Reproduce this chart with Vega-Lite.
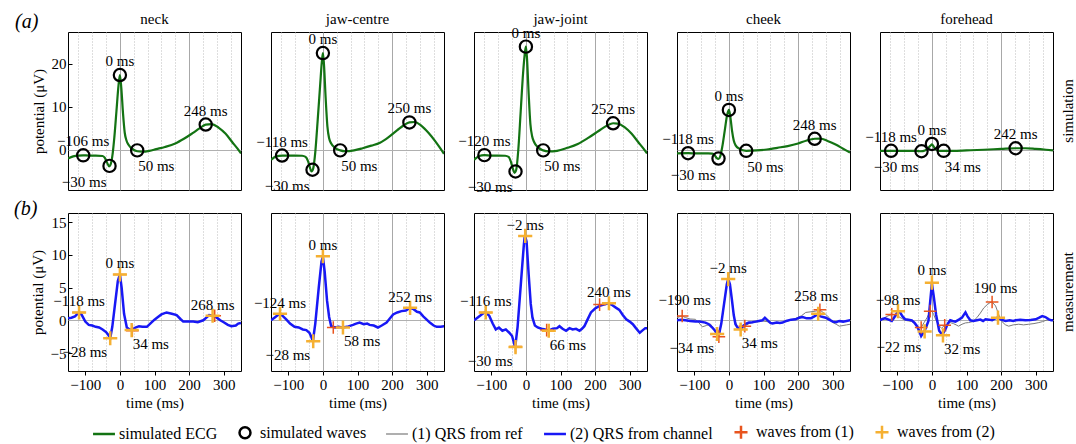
{
"$schema":"https://vega.github.io/schema/vega-lite/v6.json",
"padding":{"left":14,"right":2,"top":12,"bottom":2},
"config":{
 "font":"Liberation Serif",
 "view":{"stroke":"#000000","strokeWidth":1},
 "axis":{"labelFont":"Liberation Serif","titleFont":"Liberation Serif","labelFontSize":15,"titleFontSize":15,"titleFontWeight":"normal","labelColor":"#000","titleColor":"#000","domain":false,"tickColor":"#000"},
 "header":{"labelFont":"Liberation Serif","labelFontSize":15,"labelColor":"#000","titleFont":"Liberation Serif"},
 "legend":{"labelFont":"Liberation Serif","labelFontSize":16,"labelColor":"#000","layout":{"bottom":{"anchor":"middle"}}},
 "title":{"font":"Liberation Serif","fontSize":20,"fontStyle":"italic","fontWeight":"normal","color":"#000"},
 "text":{"font":"Liberation Serif","fontSize":15,"color":"#000"}
},
"datasets":{
"sim":[
{"src":"simulation","loc":"neck","series":"simulated ECG","t":-150,"v":-2.0},
{"src":"simulation","loc":"neck","series":"simulated ECG","t":-135,"v":-1.5},
{"src":"simulation","loc":"neck","series":"simulated ECG","t":-120,"v":-1.3},
{"src":"simulation","loc":"neck","series":"simulated ECG","t":-106,"v":-1.25},
{"src":"simulation","loc":"neck","series":"simulated ECG","t":-90,"v":-1.3},
{"src":"simulation","loc":"neck","series":"simulated ECG","t":-70,"v":-1.3},
{"src":"simulation","loc":"neck","series":"simulated ECG","t":-50,"v":-1.4},
{"src":"simulation","loc":"neck","series":"simulated ECG","t":-44,"v":-1.8},
{"src":"simulation","loc":"neck","series":"simulated ECG","t":-38,"v":-2.8},
{"src":"simulation","loc":"neck","series":"simulated ECG","t":-31,"v":-3.8},
{"src":"simulation","loc":"neck","series":"simulated ECG","t":-27,"v":-3.4},
{"src":"simulation","loc":"neck","series":"simulated ECG","t":-22,"v":-1.5},
{"src":"simulation","loc":"neck","series":"simulated ECG","t":-16,"v":3},
{"src":"simulation","loc":"neck","series":"simulated ECG","t":-10,"v":9},
{"src":"simulation","loc":"neck","series":"simulated ECG","t":-4,"v":15},
{"src":"simulation","loc":"neck","series":"simulated ECG","t":0,"v":17.4},
{"src":"simulation","loc":"neck","series":"simulated ECG","t":4,"v":14.5},
{"src":"simulation","loc":"neck","series":"simulated ECG","t":9,"v":8.5},
{"src":"simulation","loc":"neck","series":"simulated ECG","t":14,"v":4},
{"src":"simulation","loc":"neck","series":"simulated ECG","t":19,"v":2.2},
{"src":"simulation","loc":"neck","series":"simulated ECG","t":25,"v":1.2},
{"src":"simulation","loc":"neck","series":"simulated ECG","t":35,"v":0.3},
{"src":"simulation","loc":"neck","series":"simulated ECG","t":50,"v":-0.3},
{"src":"simulation","loc":"neck","series":"simulated ECG","t":65,"v":-0.4},
{"src":"simulation","loc":"neck","series":"simulated ECG","t":85,"v":-0.2},
{"src":"simulation","loc":"neck","series":"simulated ECG","t":105,"v":0.2},
{"src":"simulation","loc":"neck","series":"simulated ECG","t":130,"v":0.7},
{"src":"simulation","loc":"neck","series":"simulated ECG","t":160,"v":1.5},
{"src":"simulation","loc":"neck","series":"simulated ECG","t":185,"v":2.6},
{"src":"simulation","loc":"neck","series":"simulated ECG","t":210,"v":3.9},
{"src":"simulation","loc":"neck","series":"simulated ECG","t":230,"v":5.0},
{"src":"simulation","loc":"neck","series":"simulated ECG","t":248,"v":5.9},
{"src":"simulation","loc":"neck","series":"simulated ECG","t":265,"v":6.0},
{"src":"simulation","loc":"neck","series":"simulated ECG","t":285,"v":5.2},
{"src":"simulation","loc":"neck","series":"simulated ECG","t":305,"v":3.8},
{"src":"simulation","loc":"neck","series":"simulated ECG","t":325,"v":1.8},
{"src":"simulation","loc":"neck","series":"simulated ECG","t":340,"v":0.3},
{"src":"simulation","loc":"neck","series":"simulated ECG","t":350,"v":-0.8},
{"src":"simulation","loc":"jaw-centre","series":"simulated ECG","t":-150,"v":-2.3},
{"src":"simulation","loc":"jaw-centre","series":"simulated ECG","t":-135,"v":-1.5},
{"src":"simulation","loc":"jaw-centre","series":"simulated ECG","t":-118,"v":-1.3},
{"src":"simulation","loc":"jaw-centre","series":"simulated ECG","t":-100,"v":-1.3},
{"src":"simulation","loc":"jaw-centre","series":"simulated ECG","t":-80,"v":-1.3},
{"src":"simulation","loc":"jaw-centre","series":"simulated ECG","t":-60,"v":-1.35},
{"src":"simulation","loc":"jaw-centre","series":"simulated ECG","t":-50,"v":-1.6},
{"src":"simulation","loc":"jaw-centre","series":"simulated ECG","t":-43,"v":-2.6},
{"src":"simulation","loc":"jaw-centre","series":"simulated ECG","t":-37,"v":-4.2},
{"src":"simulation","loc":"jaw-centre","series":"simulated ECG","t":-33,"v":-5.0},
{"src":"simulation","loc":"jaw-centre","series":"simulated ECG","t":-28,"v":-4.3},
{"src":"simulation","loc":"jaw-centre","series":"simulated ECG","t":-22,"v":-0.5},
{"src":"simulation","loc":"jaw-centre","series":"simulated ECG","t":-15,"v":7},
{"src":"simulation","loc":"jaw-centre","series":"simulated ECG","t":-8,"v":15},
{"src":"simulation","loc":"jaw-centre","series":"simulated ECG","t":-3,"v":20.5},
{"src":"simulation","loc":"jaw-centre","series":"simulated ECG","t":0,"v":22.5},
{"src":"simulation","loc":"jaw-centre","series":"simulated ECG","t":3,"v":20},
{"src":"simulation","loc":"jaw-centre","series":"simulated ECG","t":8,"v":12},
{"src":"simulation","loc":"jaw-centre","series":"simulated ECG","t":13,"v":5.5},
{"src":"simulation","loc":"jaw-centre","series":"simulated ECG","t":18,"v":2.7},
{"src":"simulation","loc":"jaw-centre","series":"simulated ECG","t":24,"v":1.5},
{"src":"simulation","loc":"jaw-centre","series":"simulated ECG","t":35,"v":0.5},
{"src":"simulation","loc":"jaw-centre","series":"simulated ECG","t":50,"v":-0.1},
{"src":"simulation","loc":"jaw-centre","series":"simulated ECG","t":65,"v":-0.3},
{"src":"simulation","loc":"jaw-centre","series":"simulated ECG","t":90,"v":-0.1},
{"src":"simulation","loc":"jaw-centre","series":"simulated ECG","t":115,"v":0.4},
{"src":"simulation","loc":"jaw-centre","series":"simulated ECG","t":140,"v":1.0},
{"src":"simulation","loc":"jaw-centre","series":"simulated ECG","t":165,"v":1.7},
{"src":"simulation","loc":"jaw-centre","series":"simulated ECG","t":190,"v":3.0},
{"src":"simulation","loc":"jaw-centre","series":"simulated ECG","t":215,"v":4.6},
{"src":"simulation","loc":"jaw-centre","series":"simulated ECG","t":235,"v":5.8},
{"src":"simulation","loc":"jaw-centre","series":"simulated ECG","t":250,"v":6.4},
{"src":"simulation","loc":"jaw-centre","series":"simulated ECG","t":265,"v":6.5},
{"src":"simulation","loc":"jaw-centre","series":"simulated ECG","t":285,"v":5.6},
{"src":"simulation","loc":"jaw-centre","series":"simulated ECG","t":305,"v":4.0},
{"src":"simulation","loc":"jaw-centre","series":"simulated ECG","t":325,"v":2.0},
{"src":"simulation","loc":"jaw-centre","series":"simulated ECG","t":340,"v":0.3},
{"src":"simulation","loc":"jaw-centre","series":"simulated ECG","t":350,"v":-0.9},
{"src":"simulation","loc":"jaw-joint","series":"simulated ECG","t":-150,"v":-2.3},
{"src":"simulation","loc":"jaw-joint","series":"simulated ECG","t":-135,"v":-1.4},
{"src":"simulation","loc":"jaw-joint","series":"simulated ECG","t":-120,"v":-1.2},
{"src":"simulation","loc":"jaw-joint","series":"simulated ECG","t":-100,"v":-1.3},
{"src":"simulation","loc":"jaw-joint","series":"simulated ECG","t":-80,"v":-1.3},
{"src":"simulation","loc":"jaw-joint","series":"simulated ECG","t":-60,"v":-1.35},
{"src":"simulation","loc":"jaw-joint","series":"simulated ECG","t":-50,"v":-1.6},
{"src":"simulation","loc":"jaw-joint","series":"simulated ECG","t":-43,"v":-2.8},
{"src":"simulation","loc":"jaw-joint","series":"simulated ECG","t":-37,"v":-4.5},
{"src":"simulation","loc":"jaw-joint","series":"simulated ECG","t":-33,"v":-5.3},
{"src":"simulation","loc":"jaw-joint","series":"simulated ECG","t":-28,"v":-4.6},
{"src":"simulation","loc":"jaw-joint","series":"simulated ECG","t":-22,"v":0},
{"src":"simulation","loc":"jaw-joint","series":"simulated ECG","t":-15,"v":9},
{"src":"simulation","loc":"jaw-joint","series":"simulated ECG","t":-8,"v":18},
{"src":"simulation","loc":"jaw-joint","series":"simulated ECG","t":-3,"v":22.5},
{"src":"simulation","loc":"jaw-joint","series":"simulated ECG","t":0,"v":24.0},
{"src":"simulation","loc":"jaw-joint","series":"simulated ECG","t":3,"v":21.5},
{"src":"simulation","loc":"jaw-joint","series":"simulated ECG","t":8,"v":13},
{"src":"simulation","loc":"jaw-joint","series":"simulated ECG","t":13,"v":6},
{"src":"simulation","loc":"jaw-joint","series":"simulated ECG","t":18,"v":3.2},
{"src":"simulation","loc":"jaw-joint","series":"simulated ECG","t":24,"v":1.8},
{"src":"simulation","loc":"jaw-joint","series":"simulated ECG","t":35,"v":0.6},
{"src":"simulation","loc":"jaw-joint","series":"simulated ECG","t":50,"v":-0.1},
{"src":"simulation","loc":"jaw-joint","series":"simulated ECG","t":65,"v":-0.35},
{"src":"simulation","loc":"jaw-joint","series":"simulated ECG","t":90,"v":-0.2},
{"src":"simulation","loc":"jaw-joint","series":"simulated ECG","t":120,"v":0.5},
{"src":"simulation","loc":"jaw-joint","series":"simulated ECG","t":150,"v":1.4},
{"src":"simulation","loc":"jaw-joint","series":"simulated ECG","t":180,"v":2.8},
{"src":"simulation","loc":"jaw-joint","series":"simulated ECG","t":210,"v":4.4},
{"src":"simulation","loc":"jaw-joint","series":"simulated ECG","t":235,"v":5.7},
{"src":"simulation","loc":"jaw-joint","series":"simulated ECG","t":252,"v":6.2},
{"src":"simulation","loc":"jaw-joint","series":"simulated ECG","t":265,"v":6.1},
{"src":"simulation","loc":"jaw-joint","series":"simulated ECG","t":285,"v":5.3},
{"src":"simulation","loc":"jaw-joint","series":"simulated ECG","t":305,"v":3.8},
{"src":"simulation","loc":"jaw-joint","series":"simulated ECG","t":325,"v":1.8},
{"src":"simulation","loc":"jaw-joint","series":"simulated ECG","t":340,"v":0.3},
{"src":"simulation","loc":"jaw-joint","series":"simulated ECG","t":350,"v":-0.8},
{"src":"simulation","loc":"cheek","series":"simulated ECG","t":-150,"v":-0.8},
{"src":"simulation","loc":"cheek","series":"simulated ECG","t":-118,"v":-0.75},
{"src":"simulation","loc":"cheek","series":"simulated ECG","t":-90,"v":-0.8},
{"src":"simulation","loc":"cheek","series":"simulated ECG","t":-60,"v":-0.8},
{"src":"simulation","loc":"cheek","series":"simulated ECG","t":-48,"v":-0.85},
{"src":"simulation","loc":"cheek","series":"simulated ECG","t":-41,"v":-1.2},
{"src":"simulation","loc":"cheek","series":"simulated ECG","t":-35,"v":-1.9},
{"src":"simulation","loc":"cheek","series":"simulated ECG","t":-30,"v":-2.1},
{"src":"simulation","loc":"cheek","series":"simulated ECG","t":-25,"v":-1.5},
{"src":"simulation","loc":"cheek","series":"simulated ECG","t":-19,"v":0.8},
{"src":"simulation","loc":"cheek","series":"simulated ECG","t":-12,"v":4.5},
{"src":"simulation","loc":"cheek","series":"simulated ECG","t":-5,"v":8.2},
{"src":"simulation","loc":"cheek","series":"simulated ECG","t":0,"v":9.3},
{"src":"simulation","loc":"cheek","series":"simulated ECG","t":4,"v":7.8},
{"src":"simulation","loc":"cheek","series":"simulated ECG","t":9,"v":4.5},
{"src":"simulation","loc":"cheek","series":"simulated ECG","t":14,"v":2.2},
{"src":"simulation","loc":"cheek","series":"simulated ECG","t":20,"v":1.0},
{"src":"simulation","loc":"cheek","series":"simulated ECG","t":30,"v":0.3},
{"src":"simulation","loc":"cheek","series":"simulated ECG","t":50,"v":-0.2},
{"src":"simulation","loc":"cheek","series":"simulated ECG","t":80,"v":-0.1},
{"src":"simulation","loc":"cheek","series":"simulated ECG","t":110,"v":0.1},
{"src":"simulation","loc":"cheek","series":"simulated ECG","t":140,"v":0.5},
{"src":"simulation","loc":"cheek","series":"simulated ECG","t":170,"v":0.9},
{"src":"simulation","loc":"cheek","series":"simulated ECG","t":200,"v":1.5},
{"src":"simulation","loc":"cheek","series":"simulated ECG","t":225,"v":2.2},
{"src":"simulation","loc":"cheek","series":"simulated ECG","t":248,"v":2.6},
{"src":"simulation","loc":"cheek","series":"simulated ECG","t":265,"v":2.65},
{"src":"simulation","loc":"cheek","series":"simulated ECG","t":285,"v":2.1},
{"src":"simulation","loc":"cheek","series":"simulated ECG","t":310,"v":1.2},
{"src":"simulation","loc":"cheek","series":"simulated ECG","t":330,"v":0.3},
{"src":"simulation","loc":"cheek","series":"simulated ECG","t":350,"v":-0.6},
{"src":"simulation","loc":"forehead","series":"simulated ECG","t":-150,"v":-0.2},
{"src":"simulation","loc":"forehead","series":"simulated ECG","t":-118,"v":-0.2},
{"src":"simulation","loc":"forehead","series":"simulated ECG","t":-80,"v":-0.2},
{"src":"simulation","loc":"forehead","series":"simulated ECG","t":-45,"v":-0.2},
{"src":"simulation","loc":"forehead","series":"simulated ECG","t":-32,"v":-0.3},
{"src":"simulation","loc":"forehead","series":"simulated ECG","t":-20,"v":-0.1},
{"src":"simulation","loc":"forehead","series":"simulated ECG","t":-10,"v":0.5},
{"src":"simulation","loc":"forehead","series":"simulated ECG","t":-3,"v":1.1},
{"src":"simulation","loc":"forehead","series":"simulated ECG","t":0,"v":1.3},
{"src":"simulation","loc":"forehead","series":"simulated ECG","t":5,"v":0.8},
{"src":"simulation","loc":"forehead","series":"simulated ECG","t":12,"v":0.1},
{"src":"simulation","loc":"forehead","series":"simulated ECG","t":22,"v":-0.2},
{"src":"simulation","loc":"forehead","series":"simulated ECG","t":34,"v":-0.2},
{"src":"simulation","loc":"forehead","series":"simulated ECG","t":60,"v":-0.2},
{"src":"simulation","loc":"forehead","series":"simulated ECG","t":100,"v":-0.1},
{"src":"simulation","loc":"forehead","series":"simulated ECG","t":150,"v":0.05},
{"src":"simulation","loc":"forehead","series":"simulated ECG","t":200,"v":0.25},
{"src":"simulation","loc":"forehead","series":"simulated ECG","t":242,"v":0.4},
{"src":"simulation","loc":"forehead","series":"simulated ECG","t":270,"v":0.4},
{"src":"simulation","loc":"forehead","series":"simulated ECG","t":300,"v":0.25},
{"src":"simulation","loc":"forehead","series":"simulated ECG","t":330,"v":0.05},
{"src":"simulation","loc":"forehead","series":"simulated ECG","t":350,"v":-0.1},
{"src":"simulation","loc":"neck","series":"simulated waves","wave":"P","t":-106,"v":-1.25,"label":"−106 ms"},
{"src":"simulation","loc":"neck","series":"simulated waves","wave":"Q","t":-30,"v":-3.7,"label":"−30 ms"},
{"src":"simulation","loc":"neck","series":"simulated waves","wave":"R","t":0,"v":17.4,"label":"0 ms"},
{"src":"simulation","loc":"neck","series":"simulated waves","wave":"S","t":50,"v":-0.1,"label":"50 ms"},
{"src":"simulation","loc":"neck","series":"simulated waves","wave":"T","t":248,"v":5.9,"label":"248 ms"},
{"src":"simulation","loc":"jaw-centre","series":"simulated waves","wave":"P","t":-118,"v":-1.3,"label":"−118 ms"},
{"src":"simulation","loc":"jaw-centre","series":"simulated waves","wave":"Q","t":-30,"v":-4.6,"label":"−30 ms"},
{"src":"simulation","loc":"jaw-centre","series":"simulated waves","wave":"R","t":0,"v":22.5,"label":"0 ms"},
{"src":"simulation","loc":"jaw-centre","series":"simulated waves","wave":"S","t":50,"v":-0.1,"label":"50 ms"},
{"src":"simulation","loc":"jaw-centre","series":"simulated waves","wave":"T","t":250,"v":6.4,"label":"250 ms"},
{"src":"simulation","loc":"jaw-joint","series":"simulated waves","wave":"P","t":-120,"v":-1.2,"label":"−120 ms"},
{"src":"simulation","loc":"jaw-joint","series":"simulated waves","wave":"Q","t":-30,"v":-5.0,"label":"−30 ms"},
{"src":"simulation","loc":"jaw-joint","series":"simulated waves","wave":"R","t":0,"v":24.0,"label":"0 ms"},
{"src":"simulation","loc":"jaw-joint","series":"simulated waves","wave":"S","t":50,"v":-0.1,"label":"50 ms"},
{"src":"simulation","loc":"jaw-joint","series":"simulated waves","wave":"T","t":252,"v":6.2,"label":"252 ms"},
{"src":"simulation","loc":"cheek","series":"simulated waves","wave":"P","t":-118,"v":-0.75,"label":"−118 ms"},
{"src":"simulation","loc":"cheek","series":"simulated waves","wave":"Q","t":-30,"v":-2.0,"label":"−30 ms"},
{"src":"simulation","loc":"cheek","series":"simulated waves","wave":"R","t":0,"v":9.3,"label":"0 ms"},
{"src":"simulation","loc":"cheek","series":"simulated waves","wave":"S","t":50,"v":-0.2,"label":"50 ms"},
{"src":"simulation","loc":"cheek","series":"simulated waves","wave":"T","t":248,"v":2.6,"label":"248 ms"},
{"src":"simulation","loc":"forehead","series":"simulated waves","wave":"P","t":-118,"v":-0.2,"label":"−118 ms"},
{"src":"simulation","loc":"forehead","series":"simulated waves","wave":"Q","t":-30,"v":-0.3,"label":"−30 ms"},
{"src":"simulation","loc":"forehead","series":"simulated waves","wave":"R","t":0,"v":1.4,"label":"0 ms"},
{"src":"simulation","loc":"forehead","series":"simulated waves","wave":"S","t":34,"v":-0.2,"label":"34 ms"},
{"src":"simulation","loc":"forehead","series":"simulated waves","wave":"T","t":242,"v":0.4,"label":"242 ms"}
],
"meas":[
{"src":"measurement","loc":"neck","series":"(2) QRS from channel","t":-150,"v":0.3},
{"src":"measurement","loc":"neck","series":"(2) QRS from channel","t":-140,"v":0.4},
{"src":"measurement","loc":"neck","series":"(2) QRS from channel","t":-130,"v":0.6},
{"src":"measurement","loc":"neck","series":"(2) QRS from channel","t":-118,"v":1.2},
{"src":"measurement","loc":"neck","series":"(2) QRS from channel","t":-110,"v":0.8},
{"src":"measurement","loc":"neck","series":"(2) QRS from channel","t":-100,"v":-0.2},
{"src":"measurement","loc":"neck","series":"(2) QRS from channel","t":-90,"v":-0.7},
{"src":"measurement","loc":"neck","series":"(2) QRS from channel","t":-80,"v":-0.8},
{"src":"measurement","loc":"neck","series":"(2) QRS from channel","t":-70,"v":-1.0},
{"src":"measurement","loc":"neck","series":"(2) QRS from channel","t":-60,"v":-1.1},
{"src":"measurement","loc":"neck","series":"(2) QRS from channel","t":-50,"v":-1.4},
{"src":"measurement","loc":"neck","series":"(2) QRS from channel","t":-40,"v":-1.8},
{"src":"measurement","loc":"neck","series":"(2) QRS from channel","t":-34,"v":-2.2},
{"src":"measurement","loc":"neck","series":"(2) QRS from channel","t":-28,"v":-2.75},
{"src":"measurement","loc":"neck","series":"(2) QRS from channel","t":-22,"v":-1.0},
{"src":"measurement","loc":"neck","series":"(2) QRS from channel","t":-14,"v":2.5},
{"src":"measurement","loc":"neck","series":"(2) QRS from channel","t":-6,"v":6.0},
{"src":"measurement","loc":"neck","series":"(2) QRS from channel","t":0,"v":7.0},
{"src":"measurement","loc":"neck","series":"(2) QRS from channel","t":5,"v":5.0},
{"src":"measurement","loc":"neck","series":"(2) QRS from channel","t":12,"v":1.0},
{"src":"measurement","loc":"neck","series":"(2) QRS from channel","t":20,"v":-1.1},
{"src":"measurement","loc":"neck","series":"(2) QRS from channel","t":28,"v":-1.4},
{"src":"measurement","loc":"neck","series":"(2) QRS from channel","t":34,"v":-1.5},
{"src":"measurement","loc":"neck","series":"(2) QRS from channel","t":45,"v":-1.1},
{"src":"measurement","loc":"neck","series":"(2) QRS from channel","t":55,"v":-0.9},
{"src":"measurement","loc":"neck","series":"(2) QRS from channel","t":65,"v":-1.0},
{"src":"measurement","loc":"neck","series":"(2) QRS from channel","t":78,"v":-1.0},
{"src":"measurement","loc":"neck","series":"(2) QRS from channel","t":90,"v":-0.4},
{"src":"measurement","loc":"neck","series":"(2) QRS from channel","t":100,"v":0.1},
{"src":"measurement","loc":"neck","series":"(2) QRS from channel","t":110,"v":0.5},
{"src":"measurement","loc":"neck","series":"(2) QRS from channel","t":120,"v":0.9},
{"src":"measurement","loc":"neck","series":"(2) QRS from channel","t":135,"v":1.2},
{"src":"measurement","loc":"neck","series":"(2) QRS from channel","t":150,"v":1.0},
{"src":"measurement","loc":"neck","series":"(2) QRS from channel","t":164,"v":0.8},
{"src":"measurement","loc":"neck","series":"(2) QRS from channel","t":175,"v":0.2},
{"src":"measurement","loc":"neck","series":"(2) QRS from channel","t":183,"v":-0.2},
{"src":"measurement","loc":"neck","series":"(2) QRS from channel","t":195,"v":-0.2},
{"src":"measurement","loc":"neck","series":"(2) QRS from channel","t":212,"v":-0.2},
{"src":"measurement","loc":"neck","series":"(2) QRS from channel","t":225,"v":-0.3},
{"src":"measurement","loc":"neck","series":"(2) QRS from channel","t":241,"v":0.0},
{"src":"measurement","loc":"neck","series":"(2) QRS from channel","t":250,"v":0.4},
{"src":"measurement","loc":"neck","series":"(2) QRS from channel","t":258,"v":0.8},
{"src":"measurement","loc":"neck","series":"(2) QRS from channel","t":268,"v":0.7},
{"src":"measurement","loc":"neck","series":"(2) QRS from channel","t":280,"v":0.4},
{"src":"measurement","loc":"neck","series":"(2) QRS from channel","t":290,"v":0.0},
{"src":"measurement","loc":"neck","series":"(2) QRS from channel","t":300,"v":-0.3},
{"src":"measurement","loc":"neck","series":"(2) QRS from channel","t":312,"v":-0.7},
{"src":"measurement","loc":"neck","series":"(2) QRS from channel","t":322,"v":-0.9},
{"src":"measurement","loc":"neck","series":"(2) QRS from channel","t":335,"v":-0.8},
{"src":"measurement","loc":"neck","series":"(2) QRS from channel","t":342,"v":-0.5},
{"src":"measurement","loc":"neck","series":"(2) QRS from channel","t":350,"v":-0.4},
{"src":"measurement","loc":"jaw-centre","series":"(2) QRS from channel","t":-150,"v":0.0},
{"src":"measurement","loc":"jaw-centre","series":"(2) QRS from channel","t":-140,"v":0.4},
{"src":"measurement","loc":"jaw-centre","series":"(2) QRS from channel","t":-130,"v":0.8},
{"src":"measurement","loc":"jaw-centre","series":"(2) QRS from channel","t":-123,"v":1.0},
{"src":"measurement","loc":"jaw-centre","series":"(2) QRS from channel","t":-115,"v":0.6},
{"src":"measurement","loc":"jaw-centre","series":"(2) QRS from channel","t":-106,"v":0.15},
{"src":"measurement","loc":"jaw-centre","series":"(2) QRS from channel","t":-95,"v":-0.5},
{"src":"measurement","loc":"jaw-centre","series":"(2) QRS from channel","t":-82,"v":-1.0},
{"src":"measurement","loc":"jaw-centre","series":"(2) QRS from channel","t":-70,"v":-1.1},
{"src":"measurement","loc":"jaw-centre","series":"(2) QRS from channel","t":-58,"v":-1.4},
{"src":"measurement","loc":"jaw-centre","series":"(2) QRS from channel","t":-48,"v":-1.5},
{"src":"measurement","loc":"jaw-centre","series":"(2) QRS from channel","t":-39,"v":-1.9},
{"src":"measurement","loc":"jaw-centre","series":"(2) QRS from channel","t":-33,"v":-2.6},
{"src":"measurement","loc":"jaw-centre","series":"(2) QRS from channel","t":-29,"v":-3.2},
{"src":"measurement","loc":"jaw-centre","series":"(2) QRS from channel","t":-22,"v":-0.5},
{"src":"measurement","loc":"jaw-centre","series":"(2) QRS from channel","t":-12,"v":5.0},
{"src":"measurement","loc":"jaw-centre","series":"(2) QRS from channel","t":-4,"v":9.0},
{"src":"measurement","loc":"jaw-centre","series":"(2) QRS from channel","t":0,"v":9.7},
{"src":"measurement","loc":"jaw-centre","series":"(2) QRS from channel","t":5,"v":7.5},
{"src":"measurement","loc":"jaw-centre","series":"(2) QRS from channel","t":12,"v":3.0},
{"src":"measurement","loc":"jaw-centre","series":"(2) QRS from channel","t":18,"v":0.5},
{"src":"measurement","loc":"jaw-centre","series":"(2) QRS from channel","t":24,"v":-0.9},
{"src":"measurement","loc":"jaw-centre","series":"(2) QRS from channel","t":35,"v":-1.1},
{"src":"measurement","loc":"jaw-centre","series":"(2) QRS from channel","t":45,"v":-1.0},
{"src":"measurement","loc":"jaw-centre","series":"(2) QRS from channel","t":56,"v":-1.1},
{"src":"measurement","loc":"jaw-centre","series":"(2) QRS from channel","t":70,"v":-1.0},
{"src":"measurement","loc":"jaw-centre","series":"(2) QRS from channel","t":87,"v":-0.7},
{"src":"measurement","loc":"jaw-centre","series":"(2) QRS from channel","t":96,"v":-0.5},
{"src":"measurement","loc":"jaw-centre","series":"(2) QRS from channel","t":106,"v":-0.35},
{"src":"measurement","loc":"jaw-centre","series":"(2) QRS from channel","t":118,"v":-0.6},
{"src":"measurement","loc":"jaw-centre","series":"(2) QRS from channel","t":128,"v":-0.5},
{"src":"measurement","loc":"jaw-centre","series":"(2) QRS from channel","t":135,"v":-0.7},
{"src":"measurement","loc":"jaw-centre","series":"(2) QRS from channel","t":147,"v":-0.8},
{"src":"measurement","loc":"jaw-centre","series":"(2) QRS from channel","t":159,"v":-1.1},
{"src":"measurement","loc":"jaw-centre","series":"(2) QRS from channel","t":170,"v":-0.8},
{"src":"measurement","loc":"jaw-centre","series":"(2) QRS from channel","t":184,"v":-0.35},
{"src":"measurement","loc":"jaw-centre","series":"(2) QRS from channel","t":194,"v":0.3},
{"src":"measurement","loc":"jaw-centre","series":"(2) QRS from channel","t":203,"v":0.9},
{"src":"measurement","loc":"jaw-centre","series":"(2) QRS from channel","t":215,"v":1.2},
{"src":"measurement","loc":"jaw-centre","series":"(2) QRS from channel","t":227,"v":1.4},
{"src":"measurement","loc":"jaw-centre","series":"(2) QRS from channel","t":240,"v":1.5},
{"src":"measurement","loc":"jaw-centre","series":"(2) QRS from channel","t":251,"v":1.9},
{"src":"measurement","loc":"jaw-centre","series":"(2) QRS from channel","t":262,"v":1.7},
{"src":"measurement","loc":"jaw-centre","series":"(2) QRS from channel","t":272,"v":1.3},
{"src":"measurement","loc":"jaw-centre","series":"(2) QRS from channel","t":280,"v":1.2},
{"src":"measurement","loc":"jaw-centre","series":"(2) QRS from channel","t":290,"v":0.6},
{"src":"measurement","loc":"jaw-centre","series":"(2) QRS from channel","t":300,"v":0.1},
{"src":"measurement","loc":"jaw-centre","series":"(2) QRS from channel","t":309,"v":-0.35},
{"src":"measurement","loc":"jaw-centre","series":"(2) QRS from channel","t":320,"v":-0.8},
{"src":"measurement","loc":"jaw-centre","series":"(2) QRS from channel","t":329,"v":-1.0},
{"src":"measurement","loc":"jaw-centre","series":"(2) QRS from channel","t":340,"v":-1.0},
{"src":"measurement","loc":"jaw-centre","series":"(2) QRS from channel","t":351,"v":-0.9},
{"src":"measurement","loc":"jaw-joint","series":"(2) QRS from channel","t":-150,"v":0.0},
{"src":"measurement","loc":"jaw-joint","series":"(2) QRS from channel","t":-140,"v":0.4},
{"src":"measurement","loc":"jaw-joint","series":"(2) QRS from channel","t":-128,"v":0.9},
{"src":"measurement","loc":"jaw-joint","series":"(2) QRS from channel","t":-119,"v":1.2},
{"src":"measurement","loc":"jaw-joint","series":"(2) QRS from channel","t":-112,"v":1.0},
{"src":"measurement","loc":"jaw-joint","series":"(2) QRS from channel","t":-106,"v":0.7},
{"src":"measurement","loc":"jaw-joint","series":"(2) QRS from channel","t":-96,"v":-0.5},
{"src":"measurement","loc":"jaw-joint","series":"(2) QRS from channel","t":-87,"v":-1.4},
{"src":"measurement","loc":"jaw-joint","series":"(2) QRS from channel","t":-78,"v":-1.1},
{"src":"measurement","loc":"jaw-joint","series":"(2) QRS from channel","t":-68,"v":-1.6},
{"src":"measurement","loc":"jaw-joint","series":"(2) QRS from channel","t":-58,"v":-1.4},
{"src":"measurement","loc":"jaw-joint","series":"(2) QRS from channel","t":-48,"v":-1.9},
{"src":"measurement","loc":"jaw-joint","series":"(2) QRS from channel","t":-40,"v":-2.4},
{"src":"measurement","loc":"jaw-joint","series":"(2) QRS from channel","t":-31,"v":-4.1},
{"src":"measurement","loc":"jaw-joint","series":"(2) QRS from channel","t":-24,"v":-1.0},
{"src":"measurement","loc":"jaw-joint","series":"(2) QRS from channel","t":-14,"v":6.0},
{"src":"measurement","loc":"jaw-joint","series":"(2) QRS from channel","t":-6,"v":11.5},
{"src":"measurement","loc":"jaw-joint","series":"(2) QRS from channel","t":-3,"v":13.0},
{"src":"measurement","loc":"jaw-joint","series":"(2) QRS from channel","t":2,"v":12.0},
{"src":"measurement","loc":"jaw-joint","series":"(2) QRS from channel","t":8,"v":7.0},
{"src":"measurement","loc":"jaw-joint","series":"(2) QRS from channel","t":14,"v":2.5},
{"src":"measurement","loc":"jaw-joint","series":"(2) QRS from channel","t":19,"v":0.4},
{"src":"measurement","loc":"jaw-joint","series":"(2) QRS from channel","t":26,"v":-0.8},
{"src":"measurement","loc":"jaw-joint","series":"(2) QRS from channel","t":34,"v":-1.1},
{"src":"measurement","loc":"jaw-joint","series":"(2) QRS from channel","t":45,"v":-1.3},
{"src":"measurement","loc":"jaw-joint","series":"(2) QRS from channel","t":55,"v":-1.4},
{"src":"measurement","loc":"jaw-joint","series":"(2) QRS from channel","t":65,"v":-1.6},
{"src":"measurement","loc":"jaw-joint","series":"(2) QRS from channel","t":78,"v":-1.3},
{"src":"measurement","loc":"jaw-joint","series":"(2) QRS from channel","t":90,"v":-1.2},
{"src":"measurement","loc":"jaw-joint","series":"(2) QRS from channel","t":97,"v":-0.9},
{"src":"measurement","loc":"jaw-joint","series":"(2) QRS from channel","t":106,"v":-1.3},
{"src":"measurement","loc":"jaw-joint","series":"(2) QRS from channel","t":116,"v":-1.6},
{"src":"measurement","loc":"jaw-joint","series":"(2) QRS from channel","t":126,"v":-1.2},
{"src":"measurement","loc":"jaw-joint","series":"(2) QRS from channel","t":135,"v":-1.4},
{"src":"measurement","loc":"jaw-joint","series":"(2) QRS from channel","t":145,"v":-1.3},
{"src":"measurement","loc":"jaw-joint","series":"(2) QRS from channel","t":155,"v":-1.6},
{"src":"measurement","loc":"jaw-joint","series":"(2) QRS from channel","t":162,"v":-1.3},
{"src":"measurement","loc":"jaw-joint","series":"(2) QRS from channel","t":169,"v":-0.9},
{"src":"measurement","loc":"jaw-joint","series":"(2) QRS from channel","t":178,"v":0.1},
{"src":"measurement","loc":"jaw-joint","series":"(2) QRS from channel","t":188,"v":1.2},
{"src":"measurement","loc":"jaw-joint","series":"(2) QRS from channel","t":200,"v":1.8},
{"src":"measurement","loc":"jaw-joint","series":"(2) QRS from channel","t":213,"v":2.2},
{"src":"measurement","loc":"jaw-joint","series":"(2) QRS from channel","t":225,"v":2.4},
{"src":"measurement","loc":"jaw-joint","series":"(2) QRS from channel","t":239,"v":2.6},
{"src":"measurement","loc":"jaw-joint","series":"(2) QRS from channel","t":250,"v":2.3},
{"src":"measurement","loc":"jaw-joint","series":"(2) QRS from channel","t":261,"v":1.9},
{"src":"measurement","loc":"jaw-joint","series":"(2) QRS from channel","t":270,"v":1.6},
{"src":"measurement","loc":"jaw-joint","series":"(2) QRS from channel","t":280,"v":0.8},
{"src":"measurement","loc":"jaw-joint","series":"(2) QRS from channel","t":290,"v":0.15},
{"src":"measurement","loc":"jaw-joint","series":"(2) QRS from channel","t":300,"v":-0.2},
{"src":"measurement","loc":"jaw-joint","series":"(2) QRS from channel","t":309,"v":-0.6},
{"src":"measurement","loc":"jaw-joint","series":"(2) QRS from channel","t":318,"v":-1.2},
{"src":"measurement","loc":"jaw-joint","series":"(2) QRS from channel","t":329,"v":-1.9},
{"src":"measurement","loc":"jaw-joint","series":"(2) QRS from channel","t":338,"v":-1.5},
{"src":"measurement","loc":"jaw-joint","series":"(2) QRS from channel","t":345,"v":-1.2},
{"src":"measurement","loc":"jaw-joint","series":"(2) QRS from channel","t":353,"v":-1.2},
{"src":"measurement","loc":"cheek","series":"(1) QRS from ref","t":-150,"v":0.4},
{"src":"measurement","loc":"cheek","series":"(1) QRS from ref","t":-140,"v":0.6},
{"src":"measurement","loc":"cheek","series":"(1) QRS from ref","t":-135,"v":0.65},
{"src":"measurement","loc":"cheek","series":"(1) QRS from ref","t":-125,"v":0.4},
{"src":"measurement","loc":"cheek","series":"(1) QRS from ref","t":-112,"v":0.2},
{"src":"measurement","loc":"cheek","series":"(1) QRS from ref","t":-97,"v":0.15},
{"src":"measurement","loc":"cheek","series":"(1) QRS from ref","t":-88,"v":-0.3},
{"src":"measurement","loc":"cheek","series":"(1) QRS from ref","t":-77,"v":-1.0},
{"src":"measurement","loc":"cheek","series":"(1) QRS from ref","t":-65,"v":-0.8},
{"src":"measurement","loc":"cheek","series":"(1) QRS from ref","t":-53,"v":-0.6},
{"src":"measurement","loc":"cheek","series":"(1) QRS from ref","t":-44,"v":-1.3},
{"src":"measurement","loc":"cheek","series":"(1) QRS from ref","t":-34,"v":-2.1},
{"src":"measurement","loc":"cheek","series":"(1) QRS from ref","t":-29,"v":-2.5},
{"src":"measurement","loc":"cheek","series":"(1) QRS from ref","t":-22,"v":-0.6},
{"src":"measurement","loc":"cheek","series":"(1) QRS from ref","t":-14,"v":2.5},
{"src":"measurement","loc":"cheek","series":"(1) QRS from ref","t":-6,"v":5.5},
{"src":"measurement","loc":"cheek","series":"(1) QRS from ref","t":-2,"v":6.3},
{"src":"measurement","loc":"cheek","series":"(1) QRS from ref","t":3,"v":5.5},
{"src":"measurement","loc":"cheek","series":"(1) QRS from ref","t":9,"v":3.0},
{"src":"measurement","loc":"cheek","series":"(1) QRS from ref","t":15,"v":0.5},
{"src":"measurement","loc":"cheek","series":"(1) QRS from ref","t":24,"v":-1.1},
{"src":"measurement","loc":"cheek","series":"(1) QRS from ref","t":35,"v":-1.2},
{"src":"measurement","loc":"cheek","series":"(1) QRS from ref","t":46,"v":-0.9},
{"src":"measurement","loc":"cheek","series":"(1) QRS from ref","t":58,"v":-0.5},
{"src":"measurement","loc":"cheek","series":"(1) QRS from ref","t":70,"v":-0.35},
{"src":"measurement","loc":"cheek","series":"(1) QRS from ref","t":85,"v":-0.2},
{"src":"measurement","loc":"cheek","series":"(1) QRS from ref","t":97,"v":-0.1},
{"src":"measurement","loc":"cheek","series":"(1) QRS from ref","t":110,"v":-0.2},
{"src":"measurement","loc":"cheek","series":"(1) QRS from ref","t":126,"v":-0.4},
{"src":"measurement","loc":"cheek","series":"(1) QRS from ref","t":140,"v":-0.3},
{"src":"measurement","loc":"cheek","series":"(1) QRS from ref","t":155,"v":-0.35},
{"src":"measurement","loc":"cheek","series":"(1) QRS from ref","t":170,"v":-0.1},
{"src":"measurement","loc":"cheek","series":"(1) QRS from ref","t":193,"v":0.3},
{"src":"measurement","loc":"cheek","series":"(1) QRS from ref","t":210,"v":0.7},
{"src":"measurement","loc":"cheek","series":"(1) QRS from ref","t":222,"v":1.2},
{"src":"measurement","loc":"cheek","series":"(1) QRS from ref","t":237,"v":1.3},
{"src":"measurement","loc":"cheek","series":"(1) QRS from ref","t":251,"v":1.4},
{"src":"measurement","loc":"cheek","series":"(1) QRS from ref","t":263,"v":1.6},
{"src":"measurement","loc":"cheek","series":"(1) QRS from ref","t":272,"v":1.2},
{"src":"measurement","loc":"cheek","series":"(1) QRS from ref","t":280,"v":0.9},
{"src":"measurement","loc":"cheek","series":"(1) QRS from ref","t":290,"v":0.4},
{"src":"measurement","loc":"cheek","series":"(1) QRS from ref","t":300,"v":-0.35},
{"src":"measurement","loc":"cheek","series":"(1) QRS from ref","t":310,"v":-0.6},
{"src":"measurement","loc":"cheek","series":"(1) QRS from ref","t":319,"v":-0.9},
{"src":"measurement","loc":"cheek","series":"(1) QRS from ref","t":330,"v":-0.8},
{"src":"measurement","loc":"cheek","series":"(1) QRS from ref","t":340,"v":-0.7},
{"src":"measurement","loc":"cheek","series":"(1) QRS from ref","t":351,"v":-0.6},
{"src":"measurement","loc":"cheek","series":"(2) QRS from channel","t":-150,"v":0.0},
{"src":"measurement","loc":"cheek","series":"(2) QRS from channel","t":-138,"v":0.1},
{"src":"measurement","loc":"cheek","series":"(2) QRS from channel","t":-126,"v":0.0},
{"src":"measurement","loc":"cheek","series":"(2) QRS from channel","t":-112,"v":-0.1},
{"src":"measurement","loc":"cheek","series":"(2) QRS from channel","t":-97,"v":-0.2},
{"src":"measurement","loc":"cheek","series":"(2) QRS from channel","t":-85,"v":-0.2},
{"src":"measurement","loc":"cheek","series":"(2) QRS from channel","t":-68,"v":-0.35},
{"src":"measurement","loc":"cheek","series":"(2) QRS from channel","t":-58,"v":-0.6},
{"src":"measurement","loc":"cheek","series":"(2) QRS from channel","t":-48,"v":-1.1},
{"src":"measurement","loc":"cheek","series":"(2) QRS from channel","t":-40,"v":-1.6},
{"src":"measurement","loc":"cheek","series":"(2) QRS from channel","t":-34,"v":-2.1},
{"src":"measurement","loc":"cheek","series":"(2) QRS from channel","t":-28,"v":-2.0},
{"src":"measurement","loc":"cheek","series":"(2) QRS from channel","t":-22,"v":-0.5},
{"src":"measurement","loc":"cheek","series":"(2) QRS from channel","t":-14,"v":2.5},
{"src":"measurement","loc":"cheek","series":"(2) QRS from channel","t":-6,"v":5.5},
{"src":"measurement","loc":"cheek","series":"(2) QRS from channel","t":-2,"v":6.3},
{"src":"measurement","loc":"cheek","series":"(2) QRS from channel","t":3,"v":5.5},
{"src":"measurement","loc":"cheek","series":"(2) QRS from channel","t":9,"v":3.0},
{"src":"measurement","loc":"cheek","series":"(2) QRS from channel","t":14,"v":0.8},
{"src":"measurement","loc":"cheek","series":"(2) QRS from channel","t":19,"v":-0.6},
{"src":"measurement","loc":"cheek","series":"(2) QRS from channel","t":26,"v":-1.2},
{"src":"measurement","loc":"cheek","series":"(2) QRS from channel","t":34,"v":-1.4},
{"src":"measurement","loc":"cheek","series":"(2) QRS from channel","t":42,"v":-0.8},
{"src":"measurement","loc":"cheek","series":"(2) QRS from channel","t":50,"v":-0.5},
{"src":"measurement","loc":"cheek","series":"(2) QRS from channel","t":58,"v":-0.35},
{"src":"measurement","loc":"cheek","series":"(2) QRS from channel","t":68,"v":-0.3},
{"src":"measurement","loc":"cheek","series":"(2) QRS from channel","t":77,"v":-0.2},
{"src":"measurement","loc":"cheek","series":"(2) QRS from channel","t":87,"v":-0.1},
{"src":"measurement","loc":"cheek","series":"(2) QRS from channel","t":97,"v":0.0},
{"src":"measurement","loc":"cheek","series":"(2) QRS from channel","t":104,"v":0.4},
{"src":"measurement","loc":"cheek","series":"(2) QRS from channel","t":112,"v":0.0},
{"src":"measurement","loc":"cheek","series":"(2) QRS from channel","t":120,"v":-0.4},
{"src":"measurement","loc":"cheek","series":"(2) QRS from channel","t":126,"v":-0.5},
{"src":"measurement","loc":"cheek","series":"(2) QRS from channel","t":138,"v":-0.35},
{"src":"measurement","loc":"cheek","series":"(2) QRS from channel","t":147,"v":-0.4},
{"src":"measurement","loc":"cheek","series":"(2) QRS from channel","t":155,"v":-0.35},
{"src":"measurement","loc":"cheek","series":"(2) QRS from channel","t":166,"v":-0.1},
{"src":"measurement","loc":"cheek","series":"(2) QRS from channel","t":180,"v":0.1},
{"src":"measurement","loc":"cheek","series":"(2) QRS from channel","t":193,"v":0.15},
{"src":"measurement","loc":"cheek","series":"(2) QRS from channel","t":203,"v":0.4},
{"src":"measurement","loc":"cheek","series":"(2) QRS from channel","t":213,"v":0.5},
{"src":"measurement","loc":"cheek","series":"(2) QRS from channel","t":225,"v":0.3},
{"src":"measurement","loc":"cheek","series":"(2) QRS from channel","t":237,"v":0.3},
{"src":"measurement","loc":"cheek","series":"(2) QRS from channel","t":247,"v":0.6},
{"src":"measurement","loc":"cheek","series":"(2) QRS from channel","t":256,"v":0.9},
{"src":"measurement","loc":"cheek","series":"(2) QRS from channel","t":265,"v":0.6},
{"src":"measurement","loc":"cheek","series":"(2) QRS from channel","t":280,"v":0.4},
{"src":"measurement","loc":"cheek","series":"(2) QRS from channel","t":290,"v":0.1},
{"src":"measurement","loc":"cheek","series":"(2) QRS from channel","t":300,"v":-0.2},
{"src":"measurement","loc":"cheek","series":"(2) QRS from channel","t":310,"v":-0.3},
{"src":"measurement","loc":"cheek","series":"(2) QRS from channel","t":319,"v":-0.1},
{"src":"measurement","loc":"cheek","series":"(2) QRS from channel","t":330,"v":-0.2},
{"src":"measurement","loc":"cheek","series":"(2) QRS from channel","t":340,"v":-0.1},
{"src":"measurement","loc":"cheek","series":"(2) QRS from channel","t":351,"v":0.0},
{"src":"measurement","loc":"forehead","series":"(1) QRS from ref","t":-150,"v":0.15},
{"src":"measurement","loc":"forehead","series":"(1) QRS from ref","t":-140,"v":0.3},
{"src":"measurement","loc":"forehead","series":"(1) QRS from ref","t":-130,"v":0.6},
{"src":"measurement","loc":"forehead","series":"(1) QRS from ref","t":-116,"v":0.9},
{"src":"measurement","loc":"forehead","series":"(1) QRS from ref","t":-108,"v":0.8},
{"src":"measurement","loc":"forehead","series":"(1) QRS from ref","t":-97,"v":0.6},
{"src":"measurement","loc":"forehead","series":"(1) QRS from ref","t":-88,"v":0.3},
{"src":"measurement","loc":"forehead","series":"(1) QRS from ref","t":-77,"v":0.0},
{"src":"measurement","loc":"forehead","series":"(1) QRS from ref","t":-68,"v":-0.1},
{"src":"measurement","loc":"forehead","series":"(1) QRS from ref","t":-58,"v":-0.2},
{"src":"measurement","loc":"forehead","series":"(1) QRS from ref","t":-50,"v":-0.5},
{"src":"measurement","loc":"forehead","series":"(1) QRS from ref","t":-43,"v":-0.9},
{"src":"measurement","loc":"forehead","series":"(1) QRS from ref","t":-36,"v":-1.1},
{"src":"measurement","loc":"forehead","series":"(1) QRS from ref","t":-31,"v":-1.1},
{"src":"measurement","loc":"forehead","series":"(1) QRS from ref","t":-22,"v":-0.3},
{"src":"measurement","loc":"forehead","series":"(1) QRS from ref","t":-14,"v":0.4},
{"src":"measurement","loc":"forehead","series":"(1) QRS from ref","t":-5,"v":1.4},
{"src":"measurement","loc":"forehead","series":"(1) QRS from ref","t":0,"v":1.4},
{"src":"measurement","loc":"forehead","series":"(1) QRS from ref","t":5,"v":0.9},
{"src":"measurement","loc":"forehead","series":"(1) QRS from ref","t":12,"v":0.0},
{"src":"measurement","loc":"forehead","series":"(1) QRS from ref","t":20,"v":-0.8},
{"src":"measurement","loc":"forehead","series":"(1) QRS from ref","t":28,"v":-1.2},
{"src":"measurement","loc":"forehead","series":"(1) QRS from ref","t":37,"v":-0.75},
{"src":"measurement","loc":"forehead","series":"(1) QRS from ref","t":45,"v":-0.6},
{"src":"measurement","loc":"forehead","series":"(1) QRS from ref","t":53,"v":-0.35},
{"src":"measurement","loc":"forehead","series":"(1) QRS from ref","t":62,"v":-0.5},
{"src":"measurement","loc":"forehead","series":"(1) QRS from ref","t":70,"v":-0.7},
{"src":"measurement","loc":"forehead","series":"(1) QRS from ref","t":77,"v":-0.9},
{"src":"measurement","loc":"forehead","series":"(1) QRS from ref","t":87,"v":-0.6},
{"src":"measurement","loc":"forehead","series":"(1) QRS from ref","t":97,"v":-0.4},
{"src":"measurement","loc":"forehead","series":"(1) QRS from ref","t":106,"v":-0.35},
{"src":"measurement","loc":"forehead","series":"(1) QRS from ref","t":118,"v":-0.2},
{"src":"measurement","loc":"forehead","series":"(1) QRS from ref","t":130,"v":0.4},
{"src":"measurement","loc":"forehead","series":"(1) QRS from ref","t":140,"v":1.1},
{"src":"measurement","loc":"forehead","series":"(1) QRS from ref","t":150,"v":1.9},
{"src":"measurement","loc":"forehead","series":"(1) QRS from ref","t":160,"v":2.4},
{"src":"measurement","loc":"forehead","series":"(1) QRS from ref","t":168,"v":2.7},
{"src":"measurement","loc":"forehead","series":"(1) QRS from ref","t":174,"v":2.8},
{"src":"measurement","loc":"forehead","series":"(1) QRS from ref","t":184,"v":2.2},
{"src":"measurement","loc":"forehead","series":"(1) QRS from ref","t":191,"v":1.2},
{"src":"measurement","loc":"forehead","series":"(1) QRS from ref","t":198,"v":0.15},
{"src":"measurement","loc":"forehead","series":"(1) QRS from ref","t":206,"v":-0.4},
{"src":"measurement","loc":"forehead","series":"(1) QRS from ref","t":213,"v":-0.7},
{"src":"measurement","loc":"forehead","series":"(1) QRS from ref","t":222,"v":-0.9},
{"src":"measurement","loc":"forehead","series":"(1) QRS from ref","t":235,"v":-0.7},
{"src":"measurement","loc":"forehead","series":"(1) QRS from ref","t":251,"v":-0.6},
{"src":"measurement","loc":"forehead","series":"(1) QRS from ref","t":265,"v":-0.7},
{"src":"measurement","loc":"forehead","series":"(1) QRS from ref","t":280,"v":-0.6},
{"src":"measurement","loc":"forehead","series":"(1) QRS from ref","t":295,"v":-0.5},
{"src":"measurement","loc":"forehead","series":"(1) QRS from ref","t":309,"v":-0.35},
{"src":"measurement","loc":"forehead","series":"(1) QRS from ref","t":320,"v":-0.2},
{"src":"measurement","loc":"forehead","series":"(1) QRS from ref","t":330,"v":0.0},
{"src":"measurement","loc":"forehead","series":"(1) QRS from ref","t":340,"v":0.1},
{"src":"measurement","loc":"forehead","series":"(1) QRS from ref","t":351,"v":0.0},
{"src":"measurement","loc":"forehead","series":"(2) QRS from channel","t":-150,"v":0.0},
{"src":"measurement","loc":"forehead","series":"(2) QRS from channel","t":-143,"v":0.2},
{"src":"measurement","loc":"forehead","series":"(2) QRS from channel","t":-135,"v":0.3},
{"src":"measurement","loc":"forehead","series":"(2) QRS from channel","t":-125,"v":0.1},
{"src":"measurement","loc":"forehead","series":"(2) QRS from channel","t":-116,"v":-0.1},
{"src":"measurement","loc":"forehead","series":"(2) QRS from channel","t":-108,"v":0.5},
{"src":"measurement","loc":"forehead","series":"(2) QRS from channel","t":-100,"v":1.2},
{"src":"measurement","loc":"forehead","series":"(2) QRS from channel","t":-97,"v":1.4},
{"src":"measurement","loc":"forehead","series":"(2) QRS from channel","t":-92,"v":1.2},
{"src":"measurement","loc":"forehead","series":"(2) QRS from channel","t":-85,"v":0.6},
{"src":"measurement","loc":"forehead","series":"(2) QRS from channel","t":-77,"v":0.15},
{"src":"measurement","loc":"forehead","series":"(2) QRS from channel","t":-68,"v":0.1},
{"src":"measurement","loc":"forehead","series":"(2) QRS from channel","t":-58,"v":0.0},
{"src":"measurement","loc":"forehead","series":"(2) QRS from channel","t":-50,"v":-0.4},
{"src":"measurement","loc":"forehead","series":"(2) QRS from channel","t":-43,"v":-0.9},
{"src":"measurement","loc":"forehead","series":"(2) QRS from channel","t":-37,"v":-1.6},
{"src":"measurement","loc":"forehead","series":"(2) QRS from channel","t":-31,"v":-2.4},
{"src":"measurement","loc":"forehead","series":"(2) QRS from channel","t":-26,"v":-2.0},
{"src":"measurement","loc":"forehead","series":"(2) QRS from channel","t":-21,"v":-1.6},
{"src":"measurement","loc":"forehead","series":"(2) QRS from channel","t":-15,"v":-0.8},
{"src":"measurement","loc":"forehead","series":"(2) QRS from channel","t":-10,"v":-0.1},
{"src":"measurement","loc":"forehead","series":"(2) QRS from channel","t":-5,"v":2.8},
{"src":"measurement","loc":"forehead","series":"(2) QRS from channel","t":0,"v":5.6},
{"src":"measurement","loc":"forehead","series":"(2) QRS from channel","t":5,"v":3.8},
{"src":"measurement","loc":"forehead","series":"(2) QRS from channel","t":12,"v":0.9},
{"src":"measurement","loc":"forehead","series":"(2) QRS from channel","t":17,"v":-0.5},
{"src":"measurement","loc":"forehead","series":"(2) QRS from channel","t":21,"v":-1.6},
{"src":"measurement","loc":"forehead","series":"(2) QRS from channel","t":27,"v":-2.0},
{"src":"measurement","loc":"forehead","series":"(2) QRS from channel","t":32,"v":-2.0},
{"src":"measurement","loc":"forehead","series":"(2) QRS from channel","t":39,"v":-1.4},
{"src":"measurement","loc":"forehead","series":"(2) QRS from channel","t":46,"v":-0.5},
{"src":"measurement","loc":"forehead","series":"(2) QRS from channel","t":53,"v":0.0},
{"src":"measurement","loc":"forehead","series":"(2) QRS from channel","t":60,"v":-0.1},
{"src":"measurement","loc":"forehead","series":"(2) QRS from channel","t":68,"v":-0.2},
{"src":"measurement","loc":"forehead","series":"(2) QRS from channel","t":78,"v":0.1},
{"src":"measurement","loc":"forehead","series":"(2) QRS from channel","t":87,"v":0.4},
{"src":"measurement","loc":"forehead","series":"(2) QRS from channel","t":93,"v":0.9},
{"src":"measurement","loc":"forehead","series":"(2) QRS from channel","t":97,"v":1.2},
{"src":"measurement","loc":"forehead","series":"(2) QRS from channel","t":103,"v":0.6},
{"src":"measurement","loc":"forehead","series":"(2) QRS from channel","t":111,"v":0.0},
{"src":"measurement","loc":"forehead","series":"(2) QRS from channel","t":120,"v":-0.1},
{"src":"measurement","loc":"forehead","series":"(2) QRS from channel","t":130,"v":0.0},
{"src":"measurement","loc":"forehead","series":"(2) QRS from channel","t":140,"v":0.1},
{"src":"measurement","loc":"forehead","series":"(2) QRS from channel","t":148,"v":-0.1},
{"src":"measurement","loc":"forehead","series":"(2) QRS from channel","t":155,"v":0.15},
{"src":"measurement","loc":"forehead","series":"(2) QRS from channel","t":165,"v":0.1},
{"src":"measurement","loc":"forehead","series":"(2) QRS from channel","t":174,"v":0.0},
{"src":"measurement","loc":"forehead","series":"(2) QRS from channel","t":183,"v":0.3},
{"src":"measurement","loc":"forehead","series":"(2) QRS from channel","t":191,"v":0.4},
{"src":"measurement","loc":"forehead","series":"(2) QRS from channel","t":200,"v":0.1},
{"src":"measurement","loc":"forehead","series":"(2) QRS from channel","t":213,"v":-0.1},
{"src":"measurement","loc":"forehead","series":"(2) QRS from channel","t":225,"v":0.0},
{"src":"measurement","loc":"forehead","series":"(2) QRS from channel","t":235,"v":-0.1},
{"src":"measurement","loc":"forehead","series":"(2) QRS from channel","t":242,"v":0.0},
{"src":"measurement","loc":"forehead","series":"(2) QRS from channel","t":255,"v":0.1},
{"src":"measurement","loc":"forehead","series":"(2) QRS from channel","t":270,"v":0.0},
{"src":"measurement","loc":"forehead","series":"(2) QRS from channel","t":285,"v":0.05},
{"src":"measurement","loc":"forehead","series":"(2) QRS from channel","t":300,"v":0.15},
{"src":"measurement","loc":"forehead","series":"(2) QRS from channel","t":310,"v":0.4},
{"src":"measurement","loc":"forehead","series":"(2) QRS from channel","t":319,"v":0.65},
{"src":"measurement","loc":"forehead","series":"(2) QRS from channel","t":328,"v":0.5},
{"src":"measurement","loc":"forehead","series":"(2) QRS from channel","t":338,"v":0.15},
{"src":"measurement","loc":"forehead","series":"(2) QRS from channel","t":345,"v":0.0},
{"src":"measurement","loc":"forehead","series":"(2) QRS from channel","t":351,"v":0.0},
{"src":"measurement","loc":"neck","series":"waves from (1)","t":-118,"v":1.2},
{"src":"measurement","loc":"neck","series":"waves from (1)","t":-28,"v":-2.75},
{"src":"measurement","loc":"neck","series":"waves from (1)","t":0,"v":7.0},
{"src":"measurement","loc":"neck","series":"waves from (1)","t":36,"v":-1.6},
{"src":"measurement","loc":"neck","series":"waves from (1)","t":274,"v":0.7},
{"src":"measurement","loc":"jaw-centre","series":"waves from (1)","t":-124,"v":1.0},
{"src":"measurement","loc":"jaw-centre","series":"waves from (1)","t":-28,"v":-3.2},
{"src":"measurement","loc":"jaw-centre","series":"waves from (1)","t":0,"v":9.8},
{"src":"measurement","loc":"jaw-centre","series":"waves from (1)","t":30,"v":-1.1},
{"src":"measurement","loc":"jaw-centre","series":"waves from (1)","t":252,"v":1.9},
{"src":"measurement","loc":"jaw-joint","series":"waves from (1)","t":-116,"v":1.2},
{"src":"measurement","loc":"jaw-joint","series":"waves from (1)","t":-30,"v":-4.0},
{"src":"measurement","loc":"jaw-joint","series":"waves from (1)","t":-2,"v":12.9},
{"src":"measurement","loc":"jaw-joint","series":"waves from (1)","t":60,"v":-1.5},
{"src":"measurement","loc":"jaw-joint","series":"waves from (1)","t":213,"v":2.4},
{"src":"measurement","loc":"cheek","series":"waves from (1)","t":-135,"v":0.65},
{"src":"measurement","loc":"cheek","series":"waves from (1)","t":-29,"v":-2.5},
{"src":"measurement","loc":"cheek","series":"waves from (1)","t":-2,"v":6.3},
{"src":"measurement","loc":"cheek","series":"waves from (1)","t":46,"v":-0.9},
{"src":"measurement","loc":"cheek","series":"waves from (1)","t":263,"v":1.6},
{"src":"measurement","loc":"forehead","series":"waves from (1)","t":-116,"v":0.9},
{"src":"measurement","loc":"forehead","series":"waves from (1)","t":-31,"v":-1.1},
{"src":"measurement","loc":"forehead","series":"waves from (1)","t":-5,"v":1.4},
{"src":"measurement","loc":"forehead","series":"waves from (1)","t":37,"v":-0.75},
{"src":"measurement","loc":"forehead","series":"waves from (1)","t":174,"v":2.8},
{"src":"measurement","loc":"neck","series":"waves from (2)","t":-118,"v":1.2},
{"src":"measurement","loc":"neck","series":"waves from (2)","t":-28,"v":-2.75},
{"src":"measurement","loc":"neck","series":"waves from (2)","t":0,"v":7.0},
{"src":"measurement","loc":"neck","series":"waves from (2)","t":34,"v":-1.5},
{"src":"measurement","loc":"neck","series":"waves from (2)","t":268,"v":0.7},
{"src":"measurement","loc":"jaw-centre","series":"waves from (2)","t":-124,"v":1.0},
{"src":"measurement","loc":"jaw-centre","series":"waves from (2)","t":-28,"v":-3.2},
{"src":"measurement","loc":"jaw-centre","series":"waves from (2)","t":0,"v":9.8},
{"src":"measurement","loc":"jaw-centre","series":"waves from (2)","t":58,"v":-1.1},
{"src":"measurement","loc":"jaw-centre","series":"waves from (2)","t":252,"v":1.9},
{"src":"measurement","loc":"jaw-joint","series":"waves from (2)","t":-116,"v":1.2},
{"src":"measurement","loc":"jaw-joint","series":"waves from (2)","t":-30,"v":-4.1},
{"src":"measurement","loc":"jaw-joint","series":"waves from (2)","t":-2,"v":12.9},
{"src":"measurement","loc":"jaw-joint","series":"waves from (2)","t":66,"v":-1.6},
{"src":"measurement","loc":"jaw-joint","series":"waves from (2)","t":240,"v":2.6},
{"src":"measurement","loc":"cheek","series":"waves from (2)","t":-190,"v":0.0},
{"src":"measurement","loc":"cheek","series":"waves from (2)","t":-34,"v":-2.1},
{"src":"measurement","loc":"cheek","series":"waves from (2)","t":-2,"v":6.3},
{"src":"measurement","loc":"cheek","series":"waves from (2)","t":34,"v":-1.4},
{"src":"measurement","loc":"cheek","series":"waves from (2)","t":258,"v":1.0},
{"src":"measurement","loc":"forehead","series":"waves from (2)","t":-98,"v":1.4},
{"src":"measurement","loc":"forehead","series":"waves from (2)","t":-21,"v":-1.7},
{"src":"measurement","loc":"forehead","series":"waves from (2)","t":0,"v":5.75},
{"src":"measurement","loc":"forehead","series":"waves from (2)","t":32,"v":-2.3},
{"src":"measurement","loc":"forehead","series":"waves from (2)","t":191,"v":0.4},
{"src":"measurement","loc":"neck","wave":"P","t":-118,"v":1.2,"label":"−118 ms"},
{"src":"measurement","loc":"neck","wave":"Q","t":-28,"v":-2.75,"label":"−28 ms"},
{"src":"measurement","loc":"neck","wave":"R","t":0,"v":7.0,"label":"0 ms"},
{"src":"measurement","loc":"neck","wave":"S","t":34,"v":-1.5,"label":"34 ms"},
{"src":"measurement","loc":"neck","wave":"T","t":268,"v":0.7,"label":"268 ms"},
{"src":"measurement","loc":"jaw-centre","wave":"P","t":-124,"v":1.0,"label":"−124 ms"},
{"src":"measurement","loc":"jaw-centre","wave":"Q","t":-28,"v":-3.2,"label":"−28 ms"},
{"src":"measurement","loc":"jaw-centre","wave":"R","t":0,"v":9.8,"label":"0 ms"},
{"src":"measurement","loc":"jaw-centre","wave":"S","t":58,"v":-1.1,"label":"58 ms"},
{"src":"measurement","loc":"jaw-centre","wave":"T","t":252,"v":1.9,"label":"252 ms"},
{"src":"measurement","loc":"jaw-joint","wave":"P","t":-116,"v":1.2,"label":"−116 ms"},
{"src":"measurement","loc":"jaw-joint","wave":"Q","t":-30,"v":-4.1,"label":"−30 ms"},
{"src":"measurement","loc":"jaw-joint","wave":"R","t":-2,"v":12.9,"label":"−2 ms"},
{"src":"measurement","loc":"jaw-joint","wave":"S","t":66,"v":-1.6,"label":"66 ms"},
{"src":"measurement","loc":"jaw-joint","wave":"T","t":240,"v":2.6,"label":"240 ms"},
{"src":"measurement","loc":"cheek","wave":"P","t":-128,"v":1.4,"label":"−190 ms"},
{"src":"measurement","loc":"cheek","wave":"Q","t":-34,"v":-2.1,"label":"−34 ms"},
{"src":"measurement","loc":"cheek","wave":"R","t":-2,"v":6.3,"label":"−2 ms"},
{"src":"measurement","loc":"cheek","wave":"S","t":34,"v":-1.4,"label":"34 ms"},
{"src":"measurement","loc":"cheek","wave":"T","t":252,"v":2.0,"label":"258 ms"},
{"src":"measurement","loc":"forehead","wave":"P","t":-98,"v":1.4,"label":"−98 ms"},
{"src":"measurement","loc":"forehead","wave":"Q","t":-22,"v":-1.9,"label":"−22 ms"},
{"src":"measurement","loc":"forehead","wave":"R","t":0,"v":6.0,"label":"0 ms"},
{"src":"measurement","loc":"forehead","wave":"S","t":32,"v":-2.3,"label":"32 ms"},
{"src":"measurement","loc":"forehead","wave":"T","t":184,"v":3.2,"label":"190 ms"}
]
},
"spacing":2,
"resolve":{"scale":{"x":"shared","y":"independent","color":"shared","shape":"shared"},"legend":{"color":"shared","shape":"shared"}},
"vconcat":[
{
 "data":{"name":"sim"},
 "bounds":"flush",
 "title":{"text":"(a)","anchor":"start","frame":"bounds","offset":-20,"dx":-16},
 "facet":{
  "column":{"field":"loc","type":"nominal","sort":["neck","jaw-centre","jaw-joint","cheek","forehead"],"header":{"title":null,"labelPadding":5,"labelFontSize":15}},
  "row":{"field":"src","type":"nominal","header":{"title":null,"labelOrient":"right","labelAngle":-90,"labelPadding":0,"labelFontSize":15}}
 },
 "spacing":{"column":30,"row":0},
 "spec":{
  "width":173,"height":158,
  "encoding":{
   "x":{"field":"t","type":"quantitative","scale":{"domain":[-150,350],"nice":false,"zero":false},
     "axis":{"title":null,"labels":false,"ticks":false,"values":[-120,-100,-80,-40,0,40,80,100,120,160,200,240,280,300,320],"grid":true,
       "gridColor":{"condition":{"test":"datum.value % 200 === 0","value":"#a8a8a8"},"value":"#bdbdbd"},
       "gridDash":{"condition":{"test":"datum.value % 200 === 0","value":[]},"value":[1,2]},
       "gridOpacity":{"condition":{"test":"datum.value % 40 === 0","value":1},"value":0}}},
   "y":{"field":"v","type":"quantitative","scale":{"domain":[-9.3,27.4],"nice":false,"zero":false},
     "axis":{"title":"potential (μV)","values":[0,10,20],"grid":true,"gridColor":"#b0b0b0",
       "gridOpacity":{"condition":{"test":"datum.value === 0","value":1},"value":0},"tickSize":-4,"labelPadding":6,"titlePadding":5}}
  },
  "layer":[
   {"transform":[{"filter":"datum.series === 'simulated ECG'"}],
    "mark":{"type":"line","strokeWidth":2.2,"interpolate":"monotone","clip":true},
    "encoding":{"color":{"field":"series","type":"nominal","scale":{"domain":["simulated ECG","simulated waves","(1) QRS from ref","(2) QRS from channel","waves from (1)","waves from (2)"],"range":["#137313","#000000","#7a7a7a","#1818f5","#e8541e","#f5b032"]},
      "legend":{"title":null,"orient":"bottom","direction":"horizontal","columns":6,"offset":14,"symbolSize":480,"symbolStrokeWidth":2.5,"columnPadding":16,"labelOffset":7,"labelLimit":400,"labelFontSize":16,
       "encode":{"symbols":{"update":{"fill":{"value":"transparent"},"stroke":{"scale":"color","field":"value"},
        "size":{"signal":"datum.value === 'simulated waves' ? 120 : ((datum.value === 'waves from (1)' || datum.value === 'waves from (2)') ? 170 : 480)"},
        "strokeWidth":{"signal":"datum.value === '(1) QRS from ref' ? 1.2 : 2.5"}}}}}}}},
   {"transform":[{"filter":"datum.series === 'simulated waves'"}],
    "mark":{"type":"point","filled":false,"strokeWidth":2.2,"size":150,"opacity":1,"clip":true},
    "encoding":{"color":{"field":"series","type":"nominal"},
      "shape":{"field":"series","type":"nominal","scale":{"domain":["simulated ECG","simulated waves","(1) QRS from ref","(2) QRS from channel","waves from (1)","waves from (2)"],"range":["stroke","circle","stroke","stroke","M-1,0H1M0,-1V1","M-1,0H1M0,-1V1"]}}}},
   {"transform":[{"filter":"datum.wave === 'P' || datum.wave === 'R' || datum.wave === 'T'"}],
    "mark":{"type":"text","dy":-14,"align":"center","baseline":"middle","fontSize":15},
    "encoding":{"text":{"field":"label"}}},
   {"transform":[{"filter":"datum.wave === 'Q'"}],
    "mark":{"type":"text","dy":16,"dx":-3,"align":"right","baseline":"middle","fontSize":15},
    "encoding":{"text":{"field":"label"}}},
   {"transform":[{"filter":"datum.wave === 'S'"}],
    "mark":{"type":"text","dy":16,"dx":1,"align":"left","baseline":"middle","fontSize":15},
    "encoding":{"text":{"field":"label"}}}
  ]
 }
},
{
 "data":{"name":"meas"},
 "bounds":"flush",
 "title":{"text":"(b)","anchor":"start","frame":"bounds","offset":-6,"dx":-16},
 "facet":{
  "column":{"field":"loc","type":"nominal","sort":["neck","jaw-centre","jaw-joint","cheek","forehead"],"header":{"title":null,"labels":false}},
  "row":{"field":"src","type":"nominal","header":{"title":null,"labelOrient":"right","labelAngle":-90,"labelPadding":0,"labelFontSize":15}}
 },
 "spacing":{"column":30,"row":0},
 "spec":{
  "width":173,"height":158,
  "encoding":{
   "x":{"field":"t","type":"quantitative","scale":{"domain":[-150,350],"nice":false,"zero":false},
     "axis":{"title":"time (ms)","values":[-120,-100,-80,-40,0,40,80,100,120,160,200,240,280,300,320],"grid":true,
       "labelExpr":"datum.value % 100 === 0 ? datum.label : ''","labelOverlap":false,"labelFlush":false,"labelPadding":2,"titlePadding":3,"tickSize":4,
       "tickOpacity":{"condition":{"test":"datum.value % 100 === 0","value":1},"value":0},
       "gridColor":{"condition":{"test":"datum.value % 200 === 0","value":"#a8a8a8"},"value":"#bdbdbd"},
       "gridDash":{"condition":{"test":"datum.value % 200 === 0","value":[]},"value":[1,2]},
       "gridOpacity":{"condition":{"test":"datum.value % 40 === 0","value":1},"value":0}}},
   "y":{"field":"v","type":"quantitative","scale":{"domain":[-7.75,16.4],"nice":false,"zero":false},
     "axis":{"title":"potential (μV)","values":[-5,0,5,10,15],"grid":true,"gridColor":"#b0b0b0",
       "gridOpacity":{"condition":{"test":"datum.value === 0","value":1},"value":0},"tickSize":-4,"labelPadding":6,"titlePadding":5}}
  },
  "layer":[
   {"transform":[{"filter":"datum.series === '(1) QRS from ref'"}],
    "mark":{"type":"line","strokeWidth":1,"clip":true},
    "encoding":{"color":{"field":"series","type":"nominal"}}},
   {"transform":[{"filter":"datum.series === '(2) QRS from channel'"}],
    "mark":{"type":"line","strokeWidth":2.5,"clip":true},
    "encoding":{"color":{"field":"series","type":"nominal"}}},
   {"transform":[{"filter":"datum.series === 'waves from (1)'"}],
    "mark":{"type":"point","filled":false,"strokeWidth":1.5,"size":160,"opacity":1,"clip":true},
    "encoding":{"color":{"field":"series","type":"nominal"},"shape":{"field":"series","type":"nominal"}}},
   {"transform":[{"filter":"datum.series === 'waves from (2)'"}],
    "mark":{"type":"point","filled":false,"strokeWidth":2.5,"size":200,"opacity":1,"clip":true},
    "encoding":{"color":{"field":"series","type":"nominal"},"shape":{"field":"series","type":"nominal"}}},
   {"transform":[{"filter":"datum.wave === 'P' || datum.wave === 'R' || datum.wave === 'T'"}],
    "mark":{"type":"text","dy":-11,"align":"center","baseline":"middle","fontSize":15},
    "encoding":{"text":{"field":"label"}}},
   {"transform":[{"filter":"datum.wave === 'Q'"}],
    "mark":{"type":"text","dy":14,"dx":-3,"align":"right","baseline":"middle","fontSize":15},
    "encoding":{"text":{"field":"label"}}},
   {"transform":[{"filter":"datum.wave === 'S'"}],
    "mark":{"type":"text","dy":14,"dx":1,"align":"left","baseline":"middle","fontSize":15},
    "encoding":{"text":{"field":"label"}}}
  ]
 }
}
]
}
